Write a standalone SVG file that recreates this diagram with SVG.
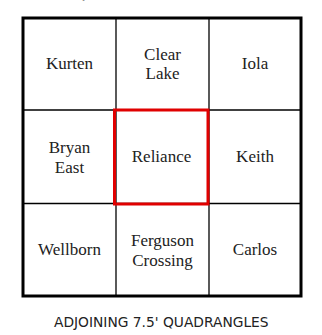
<svg xmlns="http://www.w3.org/2000/svg" width="322" height="335" viewBox="0 0 322 335">
<style>
.lbl{font-family:"Liberation Serif","Times New Roman",serif;font-size:17px;fill:#222;text-anchor:middle}
.ttl{font-family:"DejaVu Sans","Verdana",sans-serif;font-size:13.8px;fill:#222;text-anchor:middle}
.grid{stroke:#000;stroke-width:1.3;fill:none}
</style>
<rect width="322" height="335" fill="#fff"/>
<text class="ttl" x="161" y="-1">QUADRANGLE LOCATION</text>
<g id="connectors">
<line class="grid" x1="116" y1="18" x2="116" y2="296"/>
<line class="grid" x1="209" y1="18" x2="209" y2="296"/>
<line class="grid" x1="23" y1="110" x2="301" y2="110"/>
<line class="grid" x1="23" y1="203.5" x2="301" y2="203.5"/>
<rect x="23" y="18" width="278" height="278" fill="none" stroke="#000" stroke-width="3"/>
</g>
<g id="kurten"><text class="lbl" x="69.5" y="69">Kurten</text></g>
<g id="clear-lake"><text class="lbl" x="162.5" y="60">Clear</text><text class="lbl" x="162.5" y="79">Lake</text></g>
<g id="iola"><text class="lbl" x="255" y="69">Iola</text></g>
<g id="bryan-east"><text class="lbl" x="69.5" y="152.5">Bryan</text><text class="lbl" x="69.5" y="172.5">East</text></g>
<g id="reliance"><text class="lbl" x="161.5" y="162.3">Reliance</text><rect x="114.5" y="110" width="93.5" height="94" fill="none" stroke="#e00000" stroke-width="3"/></g>
<g id="keith"><text class="lbl" x="255" y="162.3">Keith</text></g>
<g id="wellborn"><text class="lbl" x="69.5" y="255.3">Wellborn</text></g>
<g id="ferguson-crossing"><text class="lbl" x="162.5" y="246">Ferguson</text><text class="lbl" x="162.5" y="265.5">Crossing</text></g>
<g id="carlos"><text class="lbl" x="255" y="255.3">Carlos</text></g>
<text class="ttl" x="161.3" y="327.3">ADJOINING 7.5' QUADRANGLES</text>
</svg>
